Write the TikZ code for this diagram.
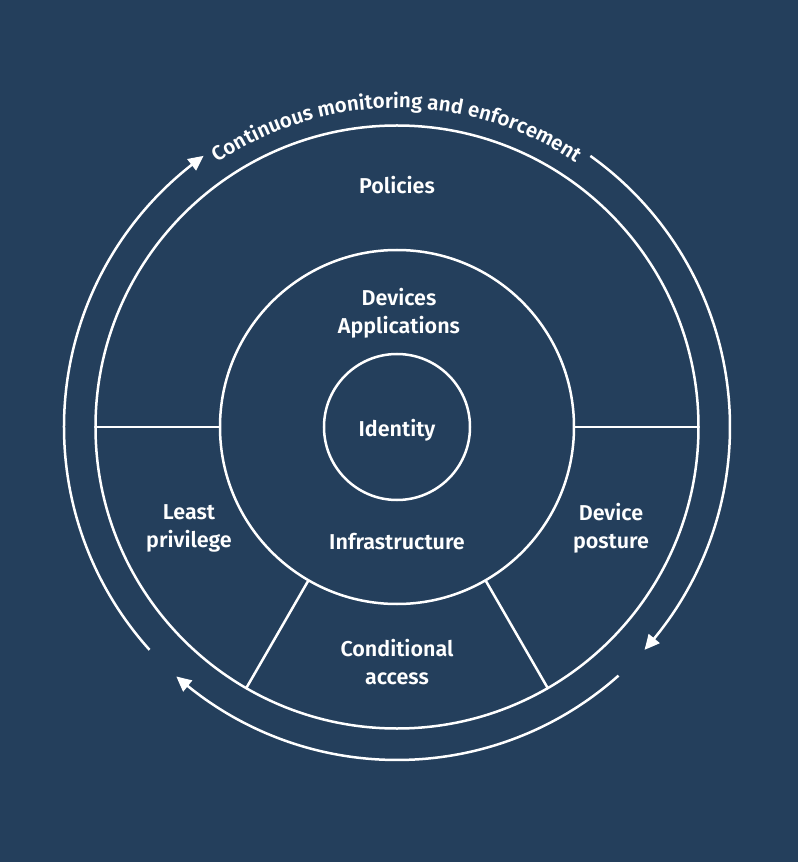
\documentclass[tikz,border=0pt]{standalone}
\usepackage{fontspec}
\setmainfont{Fira Sans}[UprightFont={* SemiBold}]
\usetikzlibrary{arrows.meta,bending,decorations.text}
\definecolor{bg}{HTML}{243F5C}
\newcommand{\lblfont}{\fontsize{21.5}{28}\selectfont}
\newcommand{\arcfont}{\fontsize{20.5}{24}\selectfont}
\tikzset{
  ring/.style={circle, draw=white, line width=2.5pt, inner sep=0pt, outer sep=0pt},
  lbl/.style={font=\lblfont, text=white, align=center, inner sep=0pt},
  divider/.style={draw=white, line width=2.5pt},
  cyclearrow/.style={draw=white, line width=2.5pt, -{Triangle[length=15pt,width=14pt,bend]}}
}
\begin{document}
\begin{tikzpicture}[x=1pt,y=1pt]
\fill[bg] (-397,-435) rectangle (401,427);
\useasboundingbox (-397,-435) rectangle (401,427);
% rings
\node[ring, minimum size=603pt] (outer) at (0,0) {};
\node[ring, minimum size=354pt] (middle) at (0,0) {};
\node[ring, minimum size=146pt] (inner) at (0,0) {};
% dividers
\draw[divider] (middle.180) -- (outer.180);
\draw[divider] (middle.0) -- (outer.0);
\draw[divider] (middle.240) -- (outer.240);
\draw[divider] (middle.300) -- (outer.300);
% labels
\node[lbl] (identity) at (inner.center) [yshift=-3pt] {Identity};
\node[lbl] (devapp) at (2,113.5) {Devices\\Applications};
\node[lbl] (infra) at (0,-115) {Infrastructure};
\node[lbl] (policies) at (0,242) {Policies};
\node[lbl] (least) at (-208,-101) {Least\\privilege};
\node[lbl] (posture) at (214,-101) {Device\\posture};
\node[lbl] (condacc) at (0,-235.5) {Conditional\\access};
% cycle arrows
\coordinate (a1s) at (222:333);
\coordinate (a2s) at (54.5:333);
\coordinate (a3s) at (-48.3:333);
\draw[cyclearrow] (a1s) arc[start angle=222, end angle=125.5, radius=333];
\draw[cyclearrow] (a2s) arc[start angle=54.5, end angle=-42, radius=333];
\draw[cyclearrow] (a3s) arc[start angle=-48.3, end angle=-131.5, radius=333];
% text along arc
\path[decorate, decoration={text along path, text align=center,
  text={|\arcfont\color{white}|Continuous monitoring and enforcement}}]
  (125:319) arc[start angle=125, end angle=55, radius=319];
\end{tikzpicture}
\end{document}
